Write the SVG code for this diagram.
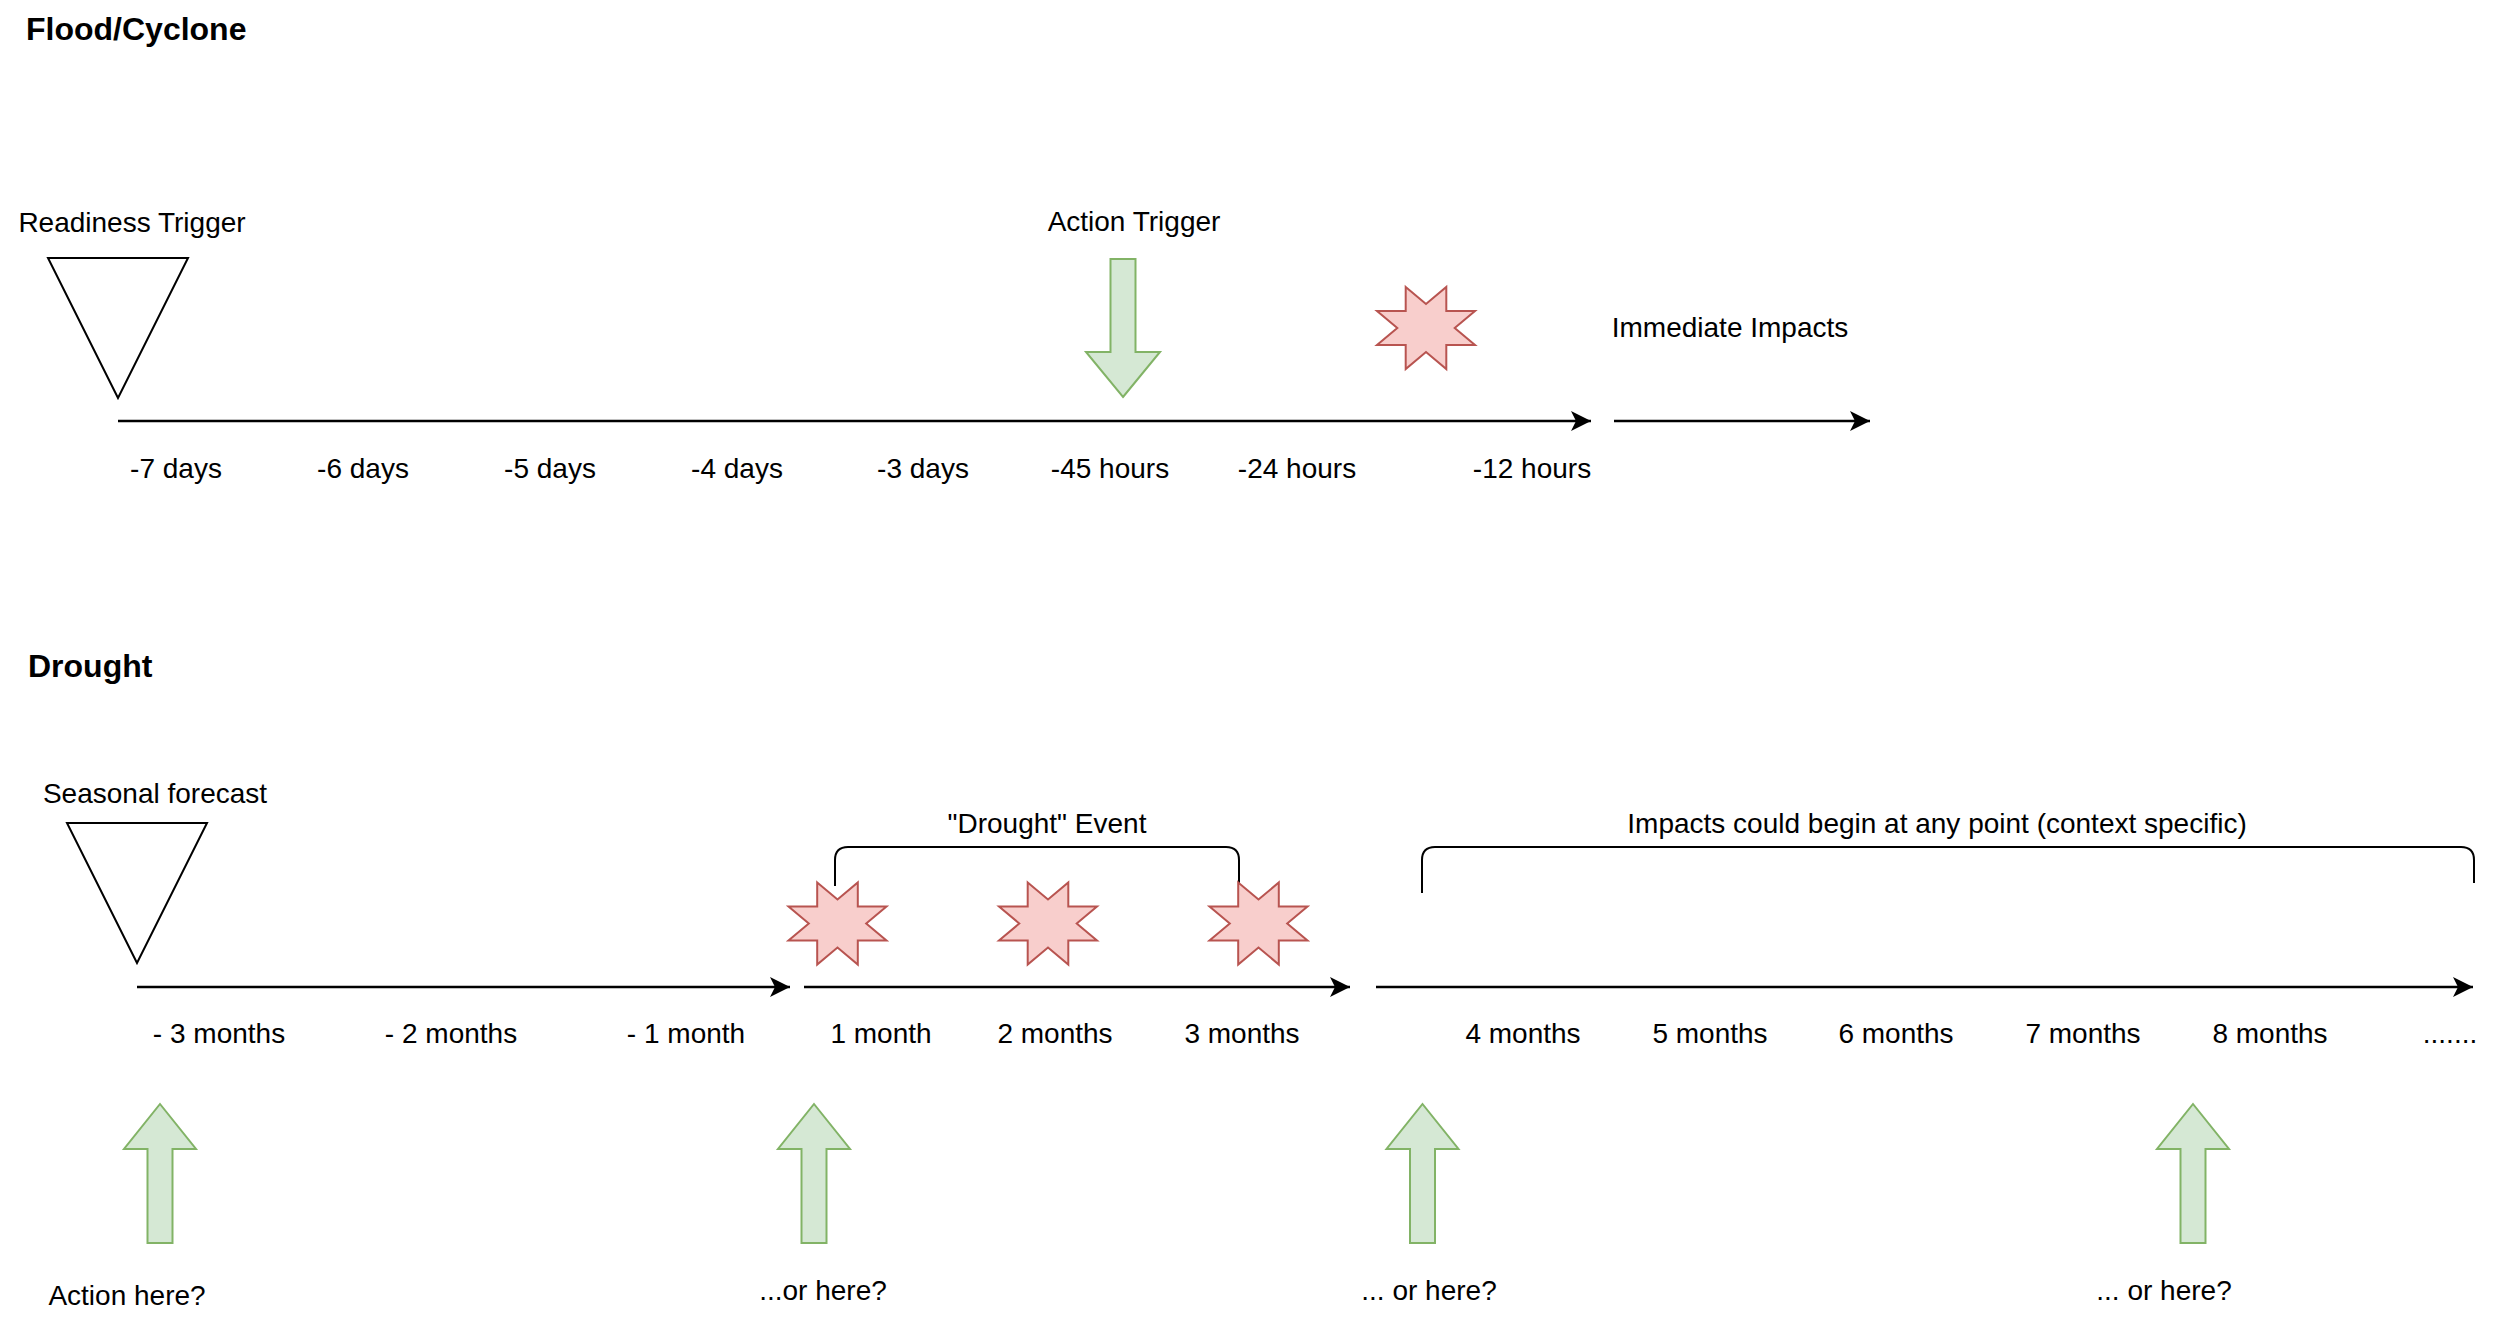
<svg xmlns="http://www.w3.org/2000/svg" xmlns:xlink="http://www.w3.org/1999/xlink" width="2500" height="1323" viewBox="0 0 2500 1323">
<style>
text{font-family:"Liberation Sans",Arial,Helvetica,sans-serif;font-size:28px;fill:#000;}
.title{font-weight:bold;font-size:32px;}
.c{text-anchor:middle;}
.tri{fill:#fff;stroke:#000;stroke-width:2;}
.star{fill:#f8cecc;stroke:#b85450;stroke-width:2;}
.garrow{fill:#d5e8d4;stroke:#82b366;stroke-width:2;}
.line{stroke:#000;stroke-width:2.5;fill:none;}
.brace{stroke:#000;stroke-width:2;fill:none;}
</style>
<defs>
<marker id="ah" markerUnits="userSpaceOnUse" markerWidth="22" markerHeight="22" refX="20" refY="10" orient="auto" viewBox="0 0 22 22">
<path d="M0,0 L20,10 L0,20 L5,10 Z" fill="#000"/>
</marker>
<path id="starShape" d="M-20.3,-41 L0,-24 L20.3,-41 L20.3,-17 L49,-17 L28.7,0 L49,17 L20.3,17 L20.3,41 L0,24 L-20.3,41 L-20.3,17 L-49,17 L-28.7,0 L-49,-17 L-20.3,-17 Z"/>
<path id="upArrow" d="M0,0 L36,45 L12.5,45 L12.5,139 L-12.5,139 L-12.5,45 L-36,45 Z"/>
<path id="downArrow" d="M0,0 L37,-45 L12.5,-45 L12.5,-138 L-12.5,-138 L-12.5,-45 L-37,-45 Z"/>
</defs>
<rect width="2500" height="1323" fill="#fff"/>

<g id="connectors">
<path class="line" d="M118,421 H1591" marker-end="url(#ah)"/>
<path class="line" d="M1614,421 H1870" marker-end="url(#ah)"/>
<path class="line" d="M137,987 H790" marker-end="url(#ah)"/>
<path class="line" d="M804,987 H1350" marker-end="url(#ah)"/>
<path class="line" d="M1376,987 H2473" marker-end="url(#ah)"/>
</g>

<g id="flood-title"><text class="title" x="26" y="40">Flood/Cyclone</text></g>
<g id="readiness-trigger">
<text class="c" x="132" y="232">Readiness Trigger</text>
<polygon class="tri" points="48,258 188,258 118,398"/>
</g>
<g id="action-trigger">
<text class="c" x="1134" y="231">Action Trigger</text>
<use xlink:href="#downArrow" href="#downArrow" class="garrow" transform="translate(1123,397)"/>
</g>
<g id="flood-star"><use xlink:href="#starShape" href="#starShape" class="star" transform="translate(1426,328)"/></g>
<g id="immediate-impacts"><text class="c" x="1730" y="337">Immediate Impacts</text></g>
<g id="flood-labels">
<text class="c" x="176" y="478">-7 days</text>
<text class="c" x="363" y="478">-6 days</text>
<text class="c" x="550" y="478">-5 days</text>
<text class="c" x="737" y="478">-4 days</text>
<text class="c" x="923" y="478">-3 days</text>
<text class="c" x="1110" y="478">-45 hours</text>
<text class="c" x="1297" y="478">-24 hours</text>
<text class="c" x="1532" y="478">-12 hours</text>
</g>

<g id="drought-title"><text class="title" x="28" y="677">Drought</text></g>
<g id="seasonal-forecast">
<text class="c" x="155" y="803">Seasonal forecast</text>
<polygon class="tri" points="67,823 207,823 137,963"/>
</g>
<g id="drought-event">
<text class="c" x="1047" y="833">"Drought" Event</text>
<path class="brace" d="M835,886 V860 Q835,847 848,847 H1226 Q1239,847 1239,860 V883"/>
</g>
<g id="drought-star-1"><use xlink:href="#starShape" href="#starShape" class="star" transform="translate(837.5,923.5)"/></g>
<g id="drought-star-2"><use xlink:href="#starShape" href="#starShape" class="star" transform="translate(1048,923.5)"/></g>
<g id="drought-star-3"><use xlink:href="#starShape" href="#starShape" class="star" transform="translate(1258.5,923.5)"/></g>
<g id="impacts-range">
<text class="c" x="1937" y="833">Impacts could begin at any point (context specific)</text>
<path class="brace" d="M1422,893 V860 Q1422,847 1435,847 H2461 Q2474,847 2474,860 V883"/>
</g>
<g id="drought-labels">
<text class="c" x="219" y="1043">- 3 months</text>
<text class="c" x="451" y="1043">- 2 months</text>
<text class="c" x="686" y="1043">- 1 month</text>
<text class="c" x="881" y="1043">1 month</text>
<text class="c" x="1055" y="1043">2 months</text>
<text class="c" x="1242" y="1043">3 months</text>
<text class="c" x="1523" y="1043">4 months</text>
<text class="c" x="1710" y="1043">5 months</text>
<text class="c" x="1896" y="1043">6 months</text>
<text class="c" x="2083" y="1043">7 months</text>
<text class="c" x="2270" y="1043">8 months</text>
<text class="c" x="2450" y="1043">.......</text>
</g>
<g id="action-1">
<use xlink:href="#upArrow" href="#upArrow" class="garrow" transform="translate(160,1104)"/>
<text class="c" x="127" y="1305">Action here?</text>
</g>
<g id="action-2">
<use xlink:href="#upArrow" href="#upArrow" class="garrow" transform="translate(814,1104)"/>
<text class="c" x="823" y="1300">...or here?</text>
</g>
<g id="action-3">
<use xlink:href="#upArrow" href="#upArrow" class="garrow" transform="translate(1422.5,1104)"/>
<text class="c" x="1429" y="1300">... or here?</text>
</g>
<g id="action-4">
<use xlink:href="#upArrow" href="#upArrow" class="garrow" transform="translate(2193,1104)"/>
<text class="c" x="2164" y="1300">... or here?</text>
</g>
</svg>
